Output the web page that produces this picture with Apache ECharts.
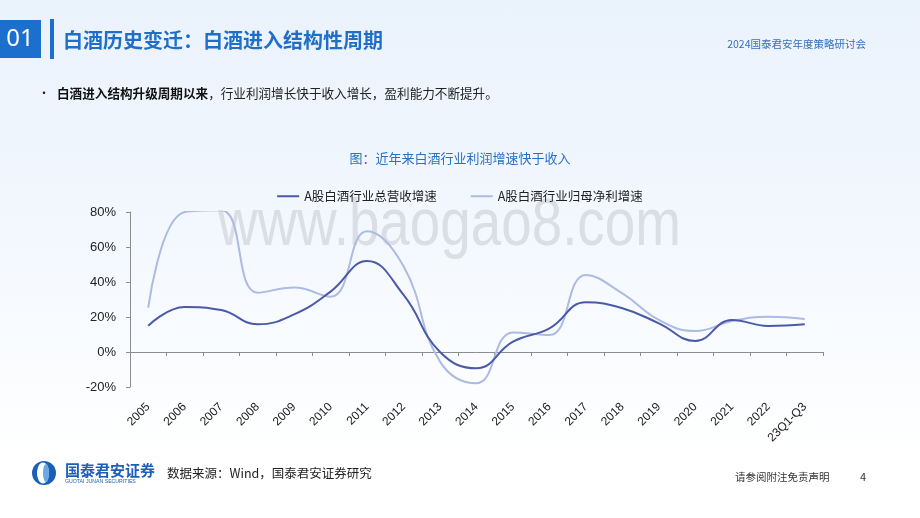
<!DOCTYPE html>
<html>
<head>
<meta charset="utf-8">
<script src="https://cdn.jsdelivr.net/npm/echarts@6/dist/echarts.min.js"></script>
<style>
html,body{margin:0;padding:0;}
body{width:920px;height:518px;background:linear-gradient(180deg,#eaf2fc 0%,#f3f8fe 45%,#ffffff 88%);}
#c{width:920px;height:518px;}
</style>
</head>
<body>
<div id="c"></div>
<script>
const categories = ['2005','2006','2007','2008','2009','2010','2011','2012','2013','2014','2015','2016','2017','2018','2019','2020','2021','2022','23Q1-Q3'];
const revenueGrowth = [15.0, 25.7, 24.0, 15.8, 21.5, 34.5, 52.0, 32.6, 0.0, -9.3, 5.9, 13.5, 28.4, 25.0, 16.4, 6.3, 18.3, 14.9, 15.8];
const profitGrowth = [25.3, 80.0, 81.0, 33.9, 36.8, 31.6, 69.0, 49.0, -5.5, -17.9, 11.2, 9.7, 44.0, 33.5, 18.3, 12.0, 17.7, 20.2, 18.9];
const yTicks = {min: -20, max: 80, interval: 20};
const seriesNames = ['A股白酒行业总营收增速', 'A股白酒行业归母净利增速'];

const FONT = '"Noto Sans CJK SC","Noto Sans",sans-serif';
const LAT = '"Liberation Sans",Arial,sans-serif';
const chart = echarts.init(document.getElementById('c'), null, {renderer: 'canvas'});
chart.setOption({
  backgroundColor: 'transparent',
  animation: false,
  grid: {left: 130, right: 97, top: 212, bottom: 131},
  legend: {
    top: 185, left: 'center',
    itemWidth: 22, itemHeight: 2, itemGap: 34,
    icon: 'rect',
    textStyle: {fontFamily: FONT, fontSize: 12.5, color: '#222'},
    data: seriesNames
  },
  xAxis: {
    type: 'category', data: categories, boundaryGap: true,
    axisLine: {onZero: true, lineStyle: {color: '#8c8c8c', width: 1}},
    axisTick: {show: true, length: 4, lineStyle: {color: '#8c8c8c'}},
    axisLabel: {rotate: 45, interval: 0, fontFamily: LAT, fontSize: 12, color: '#222', margin: 18}
  },
  yAxis: {
    type: 'value', min: yTicks.min, max: yTicks.max, interval: yTicks.interval,
    splitLine: {show: false},
    axisLine: {show: true, lineStyle: {color: '#8c8c8c'}},
    axisTick: {show: true, length: 4, lineStyle: {color: '#8c8c8c'}},
    axisLabel: {formatter: '{value}%', fontFamily: LAT, fontSize: 13, color: '#222', margin: 14}
  },
  series: [
    {name: seriesNames[0], type: 'line', data: revenueGrowth, smooth: 0.45, showSymbol: false, symbol: 'none',
     lineStyle: {color: '#4a5aa8', width: 2}, itemStyle: {color: '#4a5aa8'}, z: 3},
    {name: seriesNames[1], type: 'line', data: profitGrowth, smooth: 0.45, showSymbol: false, symbol: 'none', clip: true,
     lineStyle: {color: '#adbbe2', width: 2}, itemStyle: {color: '#adbbe2'}, z: 2}
  ],
  graphic: [
    {type: 'text', x: 218, y: 260, scaleX: 0.83, z: 0, style: {text: 'www.baogao8.com', font: '66px ' + LAT, fill: 'rgba(170,170,175,0.33)', textVerticalAlign: 'bottom'}},
    {type: 'rect', shape: {x: 0, y: 20, width: 41, height: 38}, style: {fill: '#1d6fce'}},
    {type: 'text', x: 20, y: 39, style: {text: '01', font: '24px "Noto Sans",sans-serif', fill: '#ffffff', textAlign: 'center', textVerticalAlign: 'middle'}},
    {type: 'rect', shape: {x: 50, y: 19, width: 4, height: 40}, style: {fill: '#1d6fce'}},
    {type: 'text', x: 63, y: 40, style: {text: '白酒历史变迁：白酒进入结构性周期', font: 'bold 20px ' + FONT, fill: '#1f6fc8', textVerticalAlign: 'middle'}},
    {type: 'text', x: 866, y: 44, style: {text: '2024国泰君安年度策略研讨会', font: '10.5px ' + FONT, fill: '#3a6fb8', textAlign: 'right', textVerticalAlign: 'middle'}},
    {type: 'text', x: 38, y: 93, style: {text: '•', font: '12px ' + FONT, fill: '#222', textVerticalAlign: 'middle'}},
    {type: 'text', x: 57, y: 93, style: {
      text: '{b|白酒进入结构升级周期以来}{n|，行业利润增长快于收入增长，盈利能力不断提升。}',
      textVerticalAlign: 'middle',
      rich: {b: {font: 'bold 12.6px ' + FONT, fill: '#111'}, n: {font: '12.6px ' + FONT, fill: '#222'}}
    }},
    {type: 'text', x: 460, y: 158, style: {text: '图：近年来白酒行业利润增速快于收入', font: '13px ' + FONT, fill: '#2a70c4', textAlign: 'center', textVerticalAlign: 'middle'}},
    // logo
    {type: 'circle', shape: {cx: 44, cy: 473, r: 12}, style: {fill: '#1d5fb8'}},
    {type: 'ellipse', shape: {cx: 43, cy: 473, rx: 6, ry: 10.5}, style: {fill: '#ffffff'}},
    {type: 'ellipse', shape: {cx: 46, cy: 473, rx: 3, ry: 9}, style: {fill: '#6aa9e4'}},
    {type: 'text', x: 65, y: 470, style: {text: '国泰君安证券', font: 'bold 15px ' + FONT, fill: '#1d5fb8', textVerticalAlign: 'middle'}},
    {type: 'text', x: 65, y: 482, style: {text: 'GUOTAI JUNAN SECURITIES', font: '5.2px ' + LAT, fill: '#1d5fb8', textVerticalAlign: 'middle'}},
    {type: 'text', x: 167, y: 473, style: {text: '数据来源：Wind，国泰君安证券研究', font: '12.5px ' + FONT, fill: '#222', textVerticalAlign: 'middle'}},
    {type: 'text', x: 735, y: 477, style: {text: '请参阅附注免责声明', font: '10.5px ' + FONT, fill: '#333', textVerticalAlign: 'middle'}},
    {type: 'text', x: 860, y: 477, style: {text: '4', font: '11px ' + FONT, fill: '#333', textVerticalAlign: 'middle'}}
  ]
});
</script>
</body>
</html>
